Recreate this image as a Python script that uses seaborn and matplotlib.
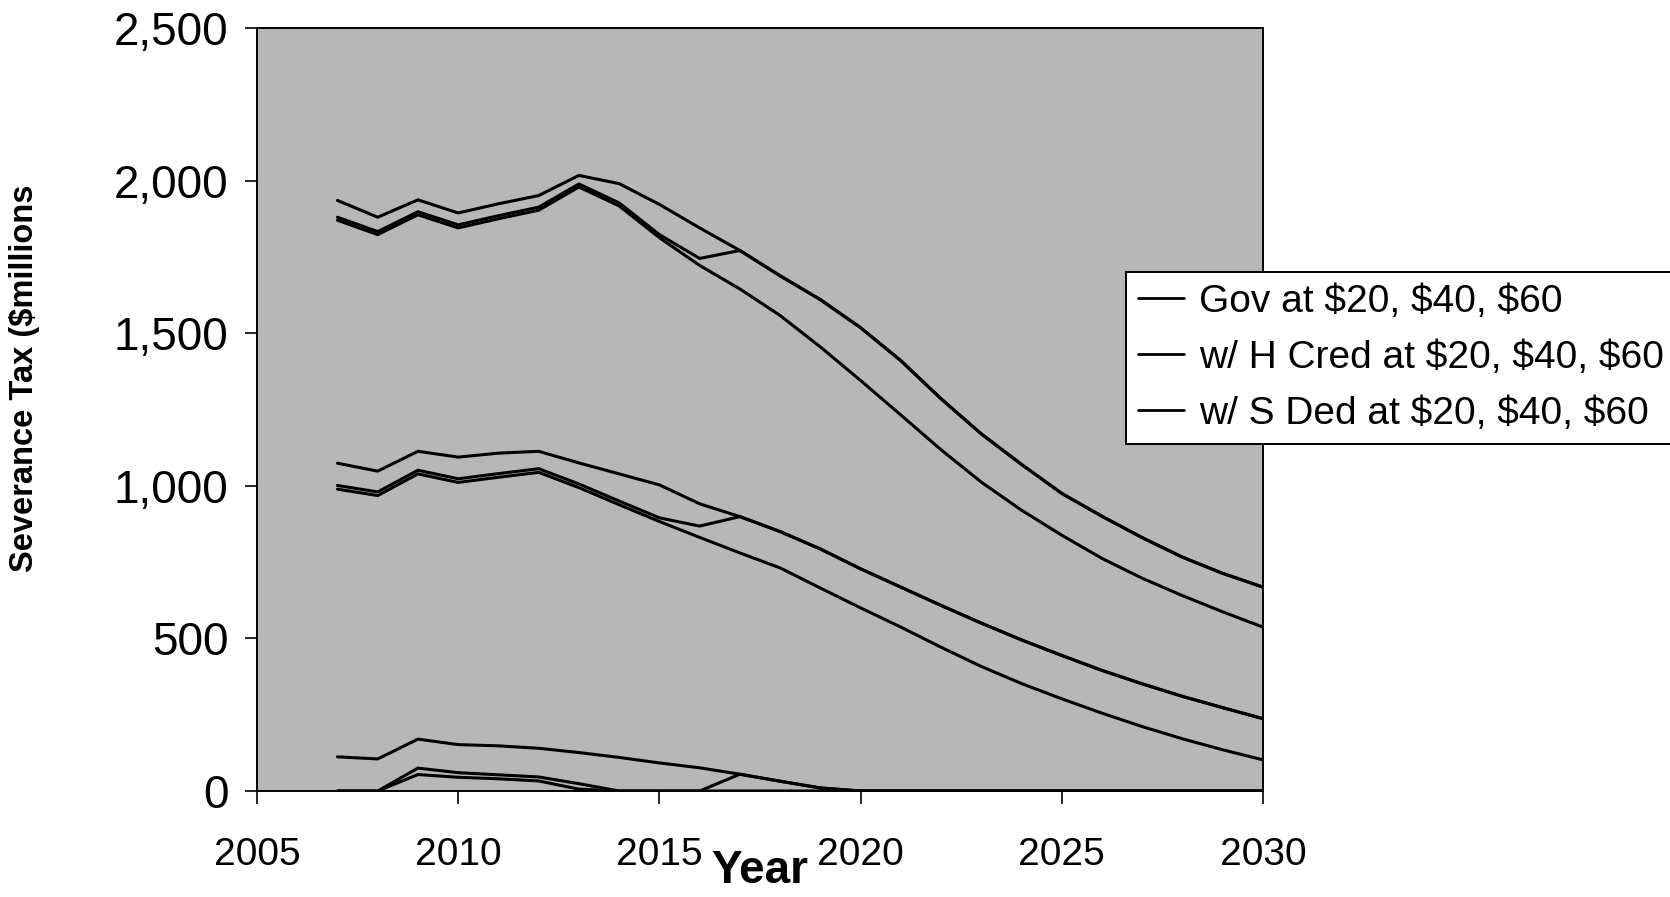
import matplotlib
matplotlib.use("Agg")
import matplotlib.pyplot as plt
import seaborn as sns
import pandas as pd
from matplotlib.lines import Line2D
from matplotlib.ticker import FuncFormatter

# ---- data ($ millions per year) -------------------------------------------
years = list(range(2007, 2031))

policies = [
    "Gov at $20, $40, $60",
    "w/ H Cred at $20, $40, $60",
    "w/ S Ded at $20, $40, $60",
]
prices = ["$20", "$40", "$60"]

gov_60 = [1870, 1823, 1888, 1845, 1875, 1903, 1979, 1917, 1813, 1722, 1645, 1558,
          1455, 1345, 1232, 1118, 1012, 920, 838, 762, 697, 640, 587, 537]
hcred_60 = [1880, 1833, 1898, 1855, 1885, 1913, 1989, 1927, 1823, 1745, 1771, 1688,
            1610, 1518, 1410, 1285, 1170, 1070, 975, 900, 830, 766, 713, 668]
sded_60 = [1935, 1880, 1937, 1894, 1924, 1951, 2017, 1990, 1922, 1845, 1771, 1688,
           1610, 1518, 1410, 1285, 1170, 1070, 975, 900, 830, 766, 713, 668]

gov_40 = [989, 968, 1039, 1011, 1028, 1044, 994, 938, 883, 831, 780, 731,
          665, 600, 537, 471, 408, 352, 302, 255, 211, 171, 135, 102]
hcred_40 = [1001, 980, 1051, 1023, 1040, 1056, 1006, 950, 895, 868, 899, 850,
            793, 728, 668, 608, 550, 495, 444, 395, 351, 310, 273, 237]
sded_40 = [1074, 1048, 1113, 1094, 1107, 1113, 1075, 1039, 1003, 941, 899, 850,
           793, 728, 668, 608, 550, 495, 444, 395, 351, 310, 273, 237]

gov_20 = [0, 0, 54, 45, 40, 33, 6, 0, 0, 0, 0, 0,
          0, 0, 0, 0, 0, 0, 0, 0, 0, 0, 0, 0]
hcred_20 = [0, 0, 75, 60, 53, 46, 24, 0, 0, 0, 55, 32,
            10, 0, 0, 0, 0, 0, 0, 0, 0, 0, 0, 0]
sded_20 = [112, 105, 170, 152, 148, 140, 126, 110, 92, 76, 55, 32,
           10, 0, 0, 0, 0, 0, 0, 0, 0, 0, 0, 0]

x_ticks = [2005, 2010, 2015, 2020, 2025, 2030]
y_ticks = [0, 500, 1000, 1500, 2000, 2500]

series = {
    (policies[0], "$20"): gov_20, (policies[0], "$40"): gov_40, (policies[0], "$60"): gov_60,
    (policies[1], "$20"): hcred_20, (policies[1], "$40"): hcred_40, (policies[1], "$60"): hcred_60,
    (policies[2], "$20"): sded_20, (policies[2], "$40"): sded_40, (policies[2], "$60"): sded_60,
}
rows = []
for (pol, price), vals in series.items():
    for yr, v in zip(years, vals):
        rows.append({"Year": yr, "Tax": v, "Policy": pol, "Price": price})
df = pd.DataFrame(rows)

# ---- style -----------------------------------------------------------------
sns.set_theme(style="white")
plt.rcParams["font.family"] = ["Liberation Sans", "DejaVu Sans"]
plt.rcParams["text.parse_math"] = False

W, H = 1670, 897
fig = plt.figure(figsize=(W / 100, H / 100), dpi=100, facecolor="white")
ax = fig.add_axes([257 / W, 1 - 791 / H, (1263 - 257) / W, (791 - 28) / H])
ax.set_facecolor("#b7b7b7")

sns.lineplot(data=df, x="Year", y="Tax", hue="Policy", units="Price",
             estimator=None, palette={p: "black" for p in policies},
             linewidth=2.2, legend=False, ax=ax)

ax.set_xlim(2005, 2030)
ax.set_ylim(0, 2500)
ax.set_xticks(x_ticks)
ax.set_yticks(y_ticks)
ax.yaxis.set_major_formatter(FuncFormatter(lambda v, p: f"{int(v):,}"))
ax.grid(False)

ax.tick_params(axis="y", left=True, direction="out", length=9, width=1.2,
               color="black", labelsize=33, pad=11.5, labelcolor="black")
ax.tick_params(axis="x", bottom=True, direction="out", length=9, width=1.2,
               color="black", labelsize=28, pad=24, labelcolor="black")

for sp in ax.spines.values():
    sp.set_visible(True)
    sp.set_color("black")
    sp.set_linewidth(1.4)

ax.set_xlabel("Year", fontsize=33, fontweight="bold", color="black")
ax.xaxis.set_label_coords(0.5, -0.076)
ax.set_ylabel("Severance Tax ($millions", fontsize=23.5, fontweight="bold", color="black")
ax.yaxis.set_label_coords(-0.2157, 0.541)

handles = [Line2D([0], [0], color="black", lw=2.0) for _ in policies]
leg = ax.legend(handles, policies, loc="upper left",
                bbox_to_anchor=(1126 / W, 1 - 272 / H), bbox_transform=fig.transFigure,
                frameon=True, fancybox=False, shadow=False, framealpha=1,
                facecolor="white", edgecolor="black", fontsize=28,
                handlelength=1.18, handletextpad=0.39, borderpad=0.31,
                labelspacing=0.51, borderaxespad=0)
leg.get_frame().set_linewidth(1.4)
for t in leg.get_texts():
    t.set_color("black")

fig.savefig("out.png", dpi=100, facecolor="white")
